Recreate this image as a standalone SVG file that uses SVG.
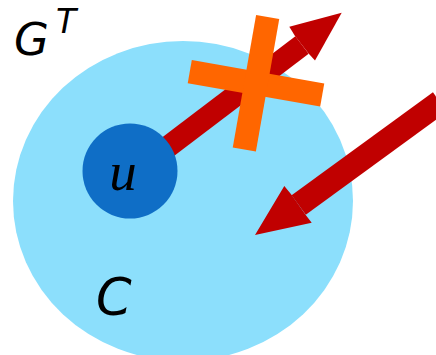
<svg xmlns="http://www.w3.org/2000/svg" width="436" height="355" viewBox="0 0 436 355">
<style>
.red{fill:#C00000}
.shaft{stroke:#C00000;fill:none;stroke-linecap:butt}
.lbl{font-family:"DejaVu Sans",sans-serif;font-style:italic;fill:#000}
.math{font-family:"Liberation Serif",serif;font-style:italic;fill:#000}
.cross{fill:#FF6600}
</style>
<rect width="436" height="355" fill="#fff"/>
<g id="graph-label">
<text class="lbl" x="14" y="55" font-size="45">G</text>
<text class="lbl" x="56" y="33" font-size="33">T</text>
</g>
<g id="component-C">
<ellipse cx="183" cy="201" rx="170" ry="160" fill="#8CDFFC"/>
<text class="lbl" x="96" y="315" font-size="51">C</text>
</g>
<g id="connectors">
<line class="shaft" x1="140" y1="168" x2="302" y2="45" stroke-width="22"/>
<polygon class="red" points="341.7,12.7 289.3,26.7 295,36 308.8,53.8 315,60.5"/>
<line class="shaft" x1="440" y1="102" x2="298.7" y2="205" stroke-width="24"/>
<polygon class="red" points="255,235 284.3,186 291.7,195 305.7,215 311.7,222.7"/>
</g>
<g id="node-u">
<circle cx="130" cy="171" r="47.5" fill="#0F6EC6"/>
<text class="math" x="123" y="190" font-size="55" text-anchor="middle">u</text>
</g>
<g id="cross" transform="translate(256,83.3) rotate(10)">
<rect class="cross" x="-67.25" y="-11.75" width="134.5" height="23.5"/>
<rect class="cross" x="-11.75" y="-67.25" width="23.5" height="134.5"/>
</g>
</svg>
